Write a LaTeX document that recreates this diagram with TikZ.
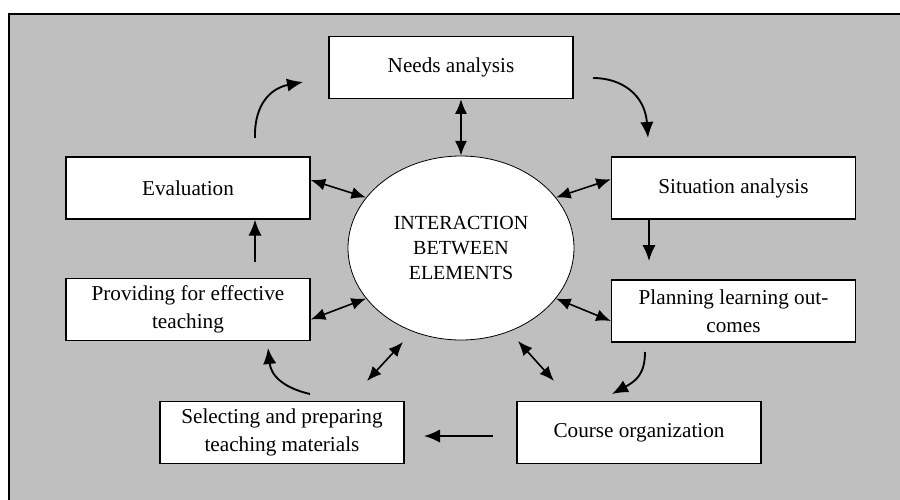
\documentclass[tikz,border=0pt]{standalone}
\usepackage{fontspec}
\setmainfont{Liberation Serif}
\usetikzlibrary{shapes.geometric,arrows.meta}

\tikzset{every picture/.style={line width=0.75pt},
  box/.style={draw, fill=white, line width=1pt, minimum width=183pt, minimum height=46.5pt, inner sep=0pt, align=center, font=\fontsize{15.9}{21}\selectfont},
  hub/.style={draw, ellipse, fill=white, line width=0.6pt, minimum width=169.5pt, minimum height=138pt, inner sep=0pt, align=center, font=\fontsize{15}{18.75}\selectfont},
  flow/.style={line width=1.4pt, -{Latex[length=12pt,width=10pt]}},
  link/.style={line width=1.2pt, {Latex[length=11pt,width=9pt]}-{Latex[length=11pt,width=9pt]}}
}

\begin{document}
\begin{tikzpicture}[x=0.75pt,y=0.75pt,yscale=-1,xscale=1]
	\useasboundingbox (0,0) rectangle (900,500);
	%Shape: Rectangle (background)
	\draw [fill={rgb, 255:red, 191; green, 191; blue, 191 }, line width=1pt] (9,14) rectangle (910,510);
	
	% Text Node
	\node [hub] (inter) at (461,248) {INTERACTION\\BETWEEN\\ELEMENTS};
	% Text Node
	\node [box] (needs) at (451,67.5) {Needs analysis};
	% Text Node
	\node [box] (eval) at (188,188) {Evaluation};
	% Text Node
	\node [box] (sit) at (733.5,188) {Situation analysis};
	% Text Node
	\node [box] (prov) at (188,309.5) {Providing for effective\\teaching};
	% Text Node
	\node [box] (plan) at (733.5,311) {Planning learning out-\\comes};
	% Text Node
	\node [box] (sel) at (282,432.5) {Selecting and preparing\\teaching materials};
	% Text Node
	\node [box] (course) at (639,432.5) {Course organization};
	
	%free ends of the cycle arrows
	\coordinate (evalup) at (255,138);
	\coordinate (needsin) at (303,82);
	\coordinate (needsout) at (593,78);
	\coordinate (sitin) at (648,138);
	\coordinate (planin) at (649,261);
	\coordinate (planout) at (645,352);
	\coordinate (coursein) at (612,394);
	\coordinate (courseout) at (493,436);
	\coordinate (selin) at (424,436);
	\coordinate (selout) at (310,394);
	\coordinate (provin) at (268,348);
	\coordinate (provup) at (255,262);
	\coordinate (selend) at (367,381);
	\coordinate (selhub) at (403,342);
	\coordinate (courseend) at (554,381);
	\coordinate (coursehub) at (518,341);
	
	%Curve Lines (cycle)
	\draw [flow] (evalup) .. controls (254,103) and (272,88) .. (needsin);
	\draw [flow] (needsout) .. controls (622,78) and (645,95) .. (sitin);
	\draw [flow] (sit.south -| planin) -- (planin);
	\draw [flow] (planout) .. controls (645,374) and (636,381) .. (coursein);
	\draw [flow] (courseout) -- (selin);
	\draw [flow] (selout) .. controls (284,388) and (271,376) .. (provin);
	\draw [flow] (provup) -- (provup |- eval.south);
	
	%Straight Lines (interaction)
	\draw [link] (needs.south -| inter.north) -- (inter.north);
	\draw [link] ([yshift=-6pt]eval.east) -- (inter.152);
	\draw [link] ([yshift=-6.5pt]sit.west) -- (inter.28);
	\draw [link] ([yshift=7.5pt]prov.east) -- (inter.208);
	\draw [link] ([yshift=7.5pt]plan.west) -- (inter.332);
	\draw [link] (selhub) -- (selend);
	\draw [link] (coursehub) -- (courseend);
\end{tikzpicture}
\end{document}
